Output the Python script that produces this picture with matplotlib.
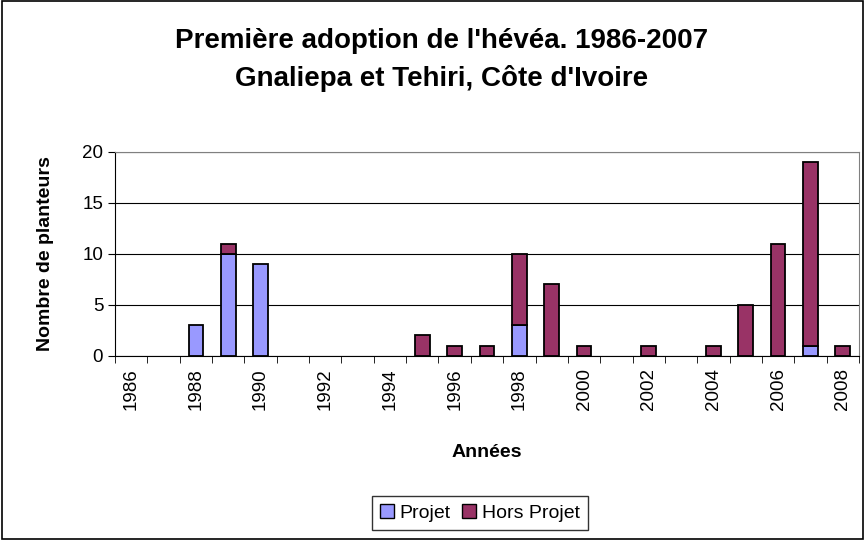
import numpy as np
import matplotlib.pyplot as plt
from matplotlib.patches import Rectangle, Patch

plt.rcParams['font.family'] = ['Liberation Sans', 'DejaVu Sans']

years = list(range(1986, 2009))
projet = [0, 0, 3, 10, 9, 0, 0, 0, 0, 0, 0, 0, 3, 0, 0, 0, 0, 0, 0, 0, 0, 1, 0]
hors_projet = [0, 0, 0, 1, 0, 0, 0, 0, 0, 2, 1, 1, 7, 7, 1, 0, 1, 0, 1, 5, 11, 18, 1]
c_projet = '#9999ff'
c_hors = '#993366'

fig = plt.figure(figsize=(8.65, 5.4), dpi=100)
ax = fig.add_axes([0.133, 0.341, 0.860, 0.378])

x = np.arange(len(years))
b1 = ax.bar(x, projet, width=0.45, color=c_projet, edgecolor='black', linewidth=1.3)
b2 = ax.bar(x, hors_projet, width=0.45, bottom=projet, color=c_hors, edgecolor='black',
            linewidth=1.3)
# empty segments are not drawn
for bars in (b1, b2):
    for p in bars:
        if p.get_height() == 0:
            p.set_visible(False)

ax.set_xlim(-0.5, len(years) - 0.5)
ax.set_ylim(0, 20)
ax.set_yticks([0, 5, 10, 15, 20])
ax.yaxis.grid(True, color='black', linewidth=0.8)
ax.set_axisbelow(True)

ax.set_xticks(x[::2])
ax.set_xticklabels([str(y) for y in years[::2]], rotation=90, fontsize=13.5)
ax.set_xticks(np.arange(-0.5, len(years)), minor=True)
ax.tick_params(axis='x', which='major', length=0, pad=9)
ax.tick_params(axis='x', which='minor', length=5, color='black')
ax.tick_params(axis='y', labelsize=13.5, length=5)

for s in ['top', 'right']:
    ax.spines[s].set_color('#808080')
ax.spines['left'].set_color('black')
ax.spines['bottom'].set_color('black')

ax.set_xlabel('Années', fontsize=14, fontweight='bold', labelpad=24)
ax.set_ylabel('Nombre de planteurs', fontsize=14, fontweight='bold', labelpad=20)

fig.text(0.51, 0.889, "Première adoption de l'hévéa. 1986-2007\nGnaliepa et Tehiri, Côte d'Ivoire",
         ha='center', va='center', fontsize=20, fontweight='bold', linespacing=1.5)

handles = [Patch(facecolor=c_projet, edgecolor='black', linewidth=1.0, label='Projet'),
           Patch(facecolor=c_hors, edgecolor='black', linewidth=1.0, label='Hors Projet')]
leg = fig.legend(handles=handles, loc='center', bbox_to_anchor=(0.555, 0.05), ncol=2, fontsize=14,
                 frameon=True, fancybox=False, edgecolor='black', handlelength=0.7,
                 handleheight=0.7, handletextpad=0.3, columnspacing=0.6, borderpad=0.4)
leg.get_frame().set_linewidth(1.0)

fig.patches.append(Rectangle((0.002, 0.002), 0.996, 0.996, transform=fig.transFigure,
                             fill=False, edgecolor='black', linewidth=1.2))

fig.savefig('out.png', dpi=100)
